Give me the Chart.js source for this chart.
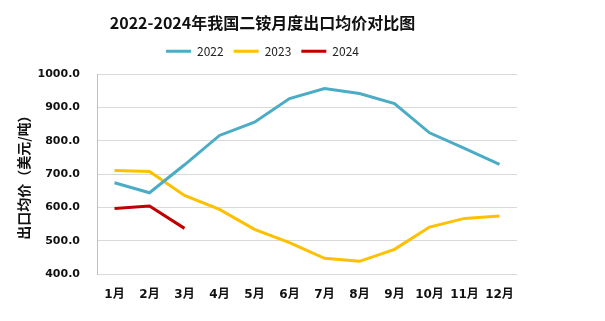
<!DOCTYPE html>
<html>
<head>
<meta charset="utf-8">
<script src="https://cdn.jsdelivr.net/npm/chart.js@4/dist/chart.umd.min.js"></script>
<style>
  body { margin: 0; background: #fff; }
  #wrap { width: 605px; height: 321px; }
</style>
</head>
<body>
<div id="wrap"><canvas id="priceChart" width="605" height="321"></canvas></div>
<script>
// Monthly average export price of DAP (USD/t)
const months = ["1月", "2月", "3月", "4月", "5月", "6月", "7月", "8月", "9月", "10月", "11月", "12月"];
const price2022 = [674, 644, 728, 816, 856, 927, 957, 942, 912, 824, 777, 729];
const price2023 = [711, 708, 636, 594, 534, 494, 447, 438, 474, 541, 567, 574];
const price2024 = [597, 604, 537];
const yTicks = [400, 500, 600, 700, 800, 900, 1000];

const cjk = "'DejaVu Sans', 'Noto Sans CJK SC', sans-serif";

function lineSet(label, data, color) {
  return {
    label: label,
    data: data,
    borderColor: color,
    backgroundColor: color,
    borderWidth: 3,
    pointRadius: 0,
    pointStyle: "line",
    tension: 0,
  };
}

// extra gap under the legend, so the plot starts lower
const legendGap = {
  id: "legendGap",
  beforeLayout(chart) {
    const lg = chart.legend;
    if (lg && !lg._gapPatched) {
      const fit = lg.fit;
      lg.fit = function () {
        fit.call(this);
        this.height += 7;
      };
      lg._gapPatched = true;
    }
  },
};

new Chart(document.getElementById("priceChart"), {
  type: "line",
  data: {
    labels: months,
    datasets: [
      lineSet("2022", price2022, "#4BACC6"),
      lineSet("2023", price2023, "#FFC000"),
      lineSet("2024", price2024, "#C00000"),
    ],
  },
  plugins: [legendGap],
  options: {
    responsive: false,
    animation: false,
    layout: { padding: { left: 8, right: 88, top: 0, bottom: 4 } },
    plugins: {
      title: {
        display: true,
        text: "2022-2024年我国二铵月度出口均价对比图",
        color: "#111",
        font: { family: "'Noto Sans CJK SC', sans-serif", size: 16, weight: "bold" },
        padding: { top: 13, bottom: 3 },
      },
      legend: {
        labels: {
          usePointStyle: true,
          pointStyle: "line",
          pointStyleWidth: 25,
          color: "#222",
          font: { family: "'Noto Sans CJK SC', sans-serif", size: 12 },
          padding: 10,
        },
      },
      tooltip: { enabled: false },
    },
    scales: {
      x: {
        offset: true,
        grid: { display: false },
        border: { display: false },
        ticks: {
          color: "#111",
          padding: 6,
          maxRotation: 0,
          font: { family: cjk, size: 12, weight: "bold" },
        },
        afterFit: (s) => { s.height = 43; },
      },
      y: {
        min: 400,
        max: 1000,
        afterBuildTicks: (s) => { s.ticks = yTicks.map((v) => ({ value: v })); },
        grid: { color: "#d9d9d9", lineWidth: 1, drawTicks: false },
        border: { display: true, color: "#bfbfbf" },
        ticks: {
          color: "#111",
          padding: 17,
          font: { family: cjk, size: 11, weight: "bold" },
          callback: (v) => v.toFixed(1),
        },
        title: {
          display: true,
          text: "出口均价（美元/吨）",
          color: "#111",
          font: { family: "'Noto Sans CJK SC', sans-serif", size: 14, weight: "bold" },
          padding: { top: 7, bottom: 0 },
        },
        afterFit: (s) => { s.width = 89; },
      },
    },
  },
});
</script>
</body>
</html>
